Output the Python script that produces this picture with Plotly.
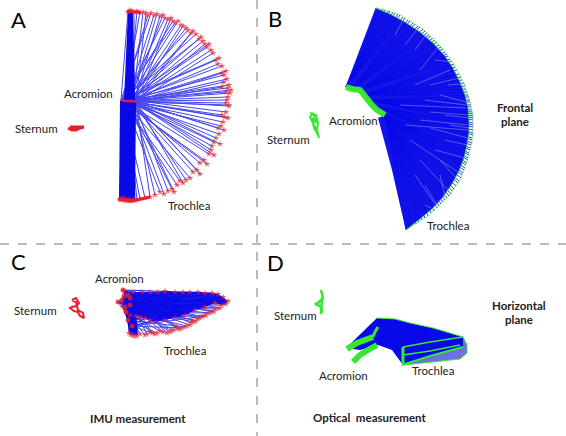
import plotly.graph_objects as go

BLUE = "#0808e8"
RED = "#e8202c"
GREEN = "#39e632"

# ---- Panel A (IMU, frontal plane) ----
a_acromion = [(121,100),(127,101),(131,100),(134,102),(129,101),(124,101),(133,101),(136,102),(122,101)]
a_band_up = [(124,100),(135,100),(133,12),(128,11)]
a_band_low = [(120,101),(136,102),(135,199),(119,199)]
a_trochlea = [(128,12),(130,10),(132,11),(134,12),(137,11),(140,12),(143,12),(146,13),(148,15),(151,13),(154,15),(157,14),
 (160,16),(163,15),(165,18),(168,19),(171,18),(173,21),(175,23),(178,21),(181,25),(183,26),(186,28),(188,30),(191,33),(193,31),
 (196,34),(199,39),(201,37),(203,41),(205,44),(207,47),(209,44),(211,50),(213,53),(216,60),(219,58),(222,66),(218,64),(222,73),
 (226,71),(224,75),(227,79),(224,82),(229,85),(228,88),(231,90),(226,92),(222,87),(230,93),(228,97),(227,100),(229,105),(226,103),(229,106),
 (222,115),(226,112),(228,118),(225,117),(223,122),(218,128),(224,130),(221,126),(219,134),(214,142),(220,144),(216,138),(212,146),(209,154),(214,155),
 (211,150),(204,160),(207,164),(200,163),(197,170),(200,174),(193,172),(190,178),(186,180),(183,183),(180,181),(177,185),(172,189),(174,192),
 (168,191),(164,194),(160,192),(155,195),(150,197),(145,198),(140,199),(137,200),(135,200),(133,201),(130,201),(128,200),(125,199),(123,200),(120,199),(122,198),
 (126,201),(129,199),(131,200),(134,199),(121,200),(124,198)]
a_top_cluster = [(127,12),(130,11),(133,12),(137,12),(141,13)]
a_low_cluster = [(118,199),(124,200),(130,201),(136,200),(142,199),(150,197)]
a_sternum = [(68,128),(72,130),(76,130),(80,128),(84,127),(78,127),(70,127)]

# ---- Panel B (optical, frontal plane) ----
b_acromion = [(346,87),(352,89),(360,90),(364,95),(367,100),(372,105),(377,110),(381,113),(385,115)]
b_trochlea = [(376,8),(378,8),(380,9),(383,9),(385,10),(388,11),(390,11),(393,12),(395,13),(398,14),(400,15),(403,17),(405,18),
 (408,20),(410,21),(413,23),(415,24),(418,26),(420,27),(423,29),(425,31),(427,33),(429,35),(431,36),(433,38),(435,40),(437,42),
 (439,45),(441,47),(443,49),(445,52),(447,54),(448,56),(450,59),(452,61),(454,64),(455,67),(457,70),(459,74),(461,77),(462,80),
 (464,83),(465,86),(466,89),(467,92),(468,95),(469,97),(470,100),(470,102),(471,105),(471,107),(472,110),(472,112),(473,114),
 (473,116),(473,118),(473,120),(473,123),(473,125),(473,127),(473,130),(473,133),(473,135),(472,138),(472,140),(472,143),(471,145),
 (470,148),(470,150),(469,153),(469,155),(468,158),(468,160),(467,163),(466,165),(465,168),(464,170),(463,173),(462,175),(461,178),
 (459,181),(458,183),(456,186),(454,189),(452,191),(451,194),(449,196),(447,198),(445,200),(443,202),(441,204),(439,206),(437,208),
 (434,211),(431,213),(428,216),(425,218),(422,220),(419,222),(416,224),(412,226),(409,228),(406,230)]
b_inner = [(376,8),(390,14),(405,22),(420,32),(433,43),(445,56),(453,68),(460,82),(465,95),(468,108),(469,120),(469,132),(467,145),
 (464,158),(459,171),(452,184),(443,197),(432,209),(420,219),(409,227),(406,230)]
b_left_edge = [(406,230),(400,205),(392,170),(384,140),(378,118)]
b_streak_from = [(400,105),(415,85),(405,125),(420,70),(430,128),(425,100),(410,140),(420,160),(425,185),(435,60),(440,95),(435,150),(415,50),(440,175),
                 (445,115),(450,125),(430,112),(445,140),(425,205),(448,85),(405,45),(395,35),(430,85),(415,175),(420,120),(440,160)]
b_streak_to = [(466,108),(450,70),(468,130),(440,45),(468,138),(466,105),(458,172),(448,190),(437,205),(452,62),(466,102),(465,158),(428,32),(445,196),
               (469,118),(469,128),(468,115),(467,145),(431,208),(461,84),(418,28),(403,20),(459,78),(435,204),(468,125),(456,178)]
b_sternum = [(310,113),(316,115),(318,123),(317,130),(319,138),(315,127),(310,117),(313,113),(316,123),(312,118),(314,128),(318,135)]

# ---- Panel C (IMU, horizontal plane) ----
c_acromion = [(123,290),(118,302),(125,307),(122,300),(128,295),(130,305),(126,312),(128,320),(132,326),(130,298),(124,296)]
c_left_band = [(122,296),(135,300),(138,335),(130,335)]
c_upper = [(124,291),(133,292),(142,292),(150,292),(158,292),(165,291),(175,292),(183,292),(190,292),(198,292),(205,293),
 (212,293),(218,294),(223,297),(228,301),(226,304),(222,305)]
c_lower = [(220,308),(218,308),(216,309),(214,311),(213,312),(210,313),(208,313),(206,315),(205,316),(202,317),(200,318),(198,319),(196,321),(194,322),(192,320),(191,323),(190,325),(187,326),(185,327),(182,328),(180,329),(178,329),(176,326),
 (174,330),(172,331),(170,332),(167,333),(163,332),(160,331),(157,333),(155,334),(152,333),(150,332),(147,334),(145,335),(140,334),(137,336),(135,336),(133,335),(131,335),(129,333),(131,334),(134,336)]
c_inner = [(215,303),(205,307),(195,310),(185,315),(175,318),(165,320),(155,322),(150,320),(145,318),(140,317),(136,316),(130,315),(122,306)]
c_sternum = [(72,300),(76,298),(79,303),(76,306),(72,307),(70,308),(74,311),(78,312),(80,316),(84,318),(83,313),(78,310),(76,302),(72,300)]

# ---- Panel D (optical, horizontal plane) ----
d_body = [(346,348),(377,318),(395,319),(410,323),(433,328),(450,333),(463,337),(463,347),(403,365),(392,350),(378,345),(360,350)]
d_shade = [(463,337),(467,345),(467,353),(460,359),(433,362),(403,365),(440,350)]
d_top_edge = [(377,318),(395,319),(410,323),(433,328),(450,333),(463,337),(467,345),(467,353),(460,359),(433,362),(403,365)]
d_acromion_1 = [(347,349),(352,346),(357,343),(365,340),(373,337)]
d_acromion_1b = [(373,337),(375,332),(378,327)]
d_acromion_2 = [(353,362),(356,359),(360,355),(368,350),(377,345)]
d_band_1 = [(403,347),(430,342),(463,337)]
d_band_2 = [(403,355),(430,351),(460,345)]
d_band_3 = [(402,365),(430,356),(463,347)]
d_band_side = [(403,347),(403,365)]
d_sternum = [(321,290),(323,298),(318,303),(315,304),(320,306),(322,310),(321,314),(322,300)]

dash_h = [(0,244),(566,244)]
dash_v = [(257,0),(257,436)]

labels = [
 ("A",18,19,22,False),("B",275,18,22,False),("C",18,261,22,False),("D",275,262,22,False),
 ("Acromion",88,93,11.5,False),("Sternum",36,128,11.5,False),("Trochlea",189,205,11.5,False),
 ("Sternum",288,139,11.5,False),("Acromion",353,120,11.5,False),("Trochlea",448,225,11.5,False),
 ("Frontal",515,107,11.5,True),("plane",515,121,11.5,True),
 ("Acromion",119,278,11.5,False),("Sternum",35,310,11.5,False),("Trochlea",185,350,11.5,False),
 ("IMU measurement",138,418,11.5,True),
 ("Sternum",295,315,11.5,False),("Acromion",343,375,11.5,False),("Trochlea",433,370,11.5,False),
 ("Horizontal",519,305,11.5,True),("plane",519,319,11.5,True),("Optical  measurement",369,417,11.5,True),
]

fig = go.Figure()

def xs(p): return [q[0] for q in p]
def ys(p): return [q[1] for q in p]

def fan(acr, tro, color, width, cyc=True, opacity=1.0):
    x, y = [], []
    for i, t in enumerate(tro):
        a = acr[i % len(acr)] if cyc else acr[i * len(acr) // len(tro)]
        x += [a[0], t[0], None]
        y += [a[1], t[1], None]
    fig.add_trace(go.Scatter(x=x, y=y, mode="lines", opacity=opacity, line=dict(color=color, width=width)))

def path(p, color, width, dash=None, opacity=1.0):
    fig.add_trace(go.Scatter(x=xs(p), y=ys(p), mode="lines", opacity=opacity, line=dict(color=color, width=width, dash=dash)))

def poly(p, color):
    fig.add_trace(go.Scatter(x=xs(p), y=ys(p), mode="lines", fill="toself", fillcolor=color, line=dict(width=0, color=color)))

def pts(p, color, size, symbol="circle", opacity=1.0):
    fig.add_trace(go.Scatter(x=xs(p), y=ys(p), mode="markers", opacity=opacity,
                             marker=dict(color=color, size=size, symbol=symbol, line=dict(width=0))))

path(dash_h, "#777777", 1, "dash")
path(dash_v, "#777777", 1, "dash")

# A
poly(a_band_up, BLUE)
poly(a_band_low, BLUE)
fan(a_acromion, a_trochlea, BLUE, 1, opacity=0.75)
pts(a_trochlea, RED, 5, "star", 0.7)
path(a_top_cluster, RED, 3)
path(a_low_cluster, RED, 3)
path(a_acromion, RED, 1.5)
path(a_sternum, RED, 3)

# B
poly(b_inner + b_left_edge[1:] + b_acromion[::-1], "#1414e8")
fan(b_acromion, b_trochlea, BLUE, 0.8, cyc=False)
x_s, y_s = [], []
for f, t in zip(b_streak_from, b_streak_to):
    x_s += [f[0], t[0], None]
    y_s += [f[1], t[1], None]
fig.add_trace(go.Scatter(x=x_s, y=y_s, mode="lines", line=dict(color="rgba(190,195,250,0.4)", width=1)))
path(b_inner, GREEN, 1, None, 0.8)
path(b_trochlea, GREEN, 1, None, 0.55)
path(b_acromion, GREEN, 6)
path(b_sternum, GREEN, 2)

# C
poly(c_upper + c_inner, "#1414e8")
poly(c_left_band, BLUE)
fan(c_acromion, c_upper + c_inner, BLUE, 1, opacity=0.9)
fan(c_acromion, c_lower, BLUE, 1, opacity=0.75)
pts(c_upper + c_lower + c_inner, RED, 5, "star", 0.7)
pts(c_acromion, RED, 5, "circle", 0.8)
path(c_sternum, RED, 2)

# D
poly(d_shade, "#6f6fe0")
poly(d_body, BLUE)
path(d_top_edge, GREEN, 1)
path(d_acromion_1, GREEN, 6)
path(d_acromion_1b, GREEN, 3)
path(d_acromion_2, GREEN, 6)
path(d_band_1, GREEN, 1.5)
path(d_band_2, GREEN, 1.5)
path(d_band_3, GREEN, 2)
path(d_band_side, GREEN, 3)
path(d_sternum, GREEN, 2.5)

for t, x, y, s, b in labels:
    fig.add_annotation(x=x, y=y, text=f"<b>{t}</b>" if b else t, showarrow=False,
                       font=dict(family="Lato", size=s, color="#222222" if s < 20 else "#000000"),
                       xanchor="center", yanchor="middle")

fig.update_layout(width=566, height=436, margin=dict(l=0, r=0, t=0, b=0), showlegend=False,
                  paper_bgcolor="white", plot_bgcolor="white", hovermode=False,
                  xaxis=dict(range=[0, 566], visible=False, fixedrange=True),
                  yaxis=dict(range=[436, 0], visible=False, fixedrange=True))
fig.write_html("out.html", config={"displayModeBar": False},
               post_script="document.body.style.margin='0';document.body.style.overflow='hidden';")
